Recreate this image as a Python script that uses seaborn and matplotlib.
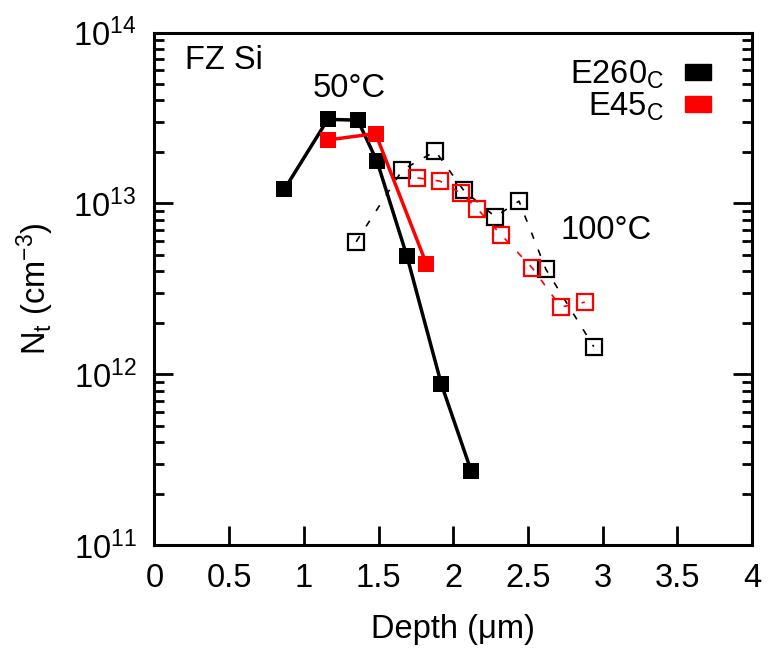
import numpy as np
import pandas as pd
import matplotlib
matplotlib.use("Agg")
import matplotlib.pyplot as plt
import seaborn as sns
from matplotlib.patches import Patch
from matplotlib.ticker import LogLocator, NullFormatter

# ---- data ----
e260_50_x = [0.87, 1.16, 1.36, 1.49, 1.69, 1.92, 2.12]
e260_50_y = [1.21e13, 3.1e13, 3.07e13, 1.76e13, 4.9e12, 8.75e11, 2.71e11]

e45_50_x = [1.16, 1.48, 1.82]
e45_50_y = [2.35e13, 2.56e13, 4.42e12]

e260_100_x = [1.35, 1.66, 1.88, 2.07, 2.28, 2.44, 2.62, 2.94]
e260_100_y = [5.96e12, 1.57e13, 2.02e13, 1.19e13, 8.35e12, 1.03e13, 4.11e12, 1.45e12]

e45_100_x = [1.76, 1.91, 2.05, 2.16, 2.32, 2.53, 2.72, 2.88]
e45_100_y = [1.41e13, 1.35e13, 1.15e13, 9.3e12, 6.55e12, 4.17e12, 2.47e12, 2.64e12]

x_ticks = [0, 0.5, 1, 1.5, 2, 2.5, 3, 3.5, 4]
x_ticklabels = ["0", "0.5", "1", "1.5", "2", "2.5", "3", "3.5", "4"]
legend_labels = [r"E260$_\mathregular{C}$", r"E45$_\mathregular{C}$"]
series_colors = ["black", "#ff0000"]

sns.set_theme(style="ticks")
plt.rcParams["font.family"] = ["Liberation Sans", "DejaVu Sans"]
plt.rcParams["mathtext.default"] = "regular"
plt.rcParams["axes.linewidth"] = 2.2
plt.rcParams["text.color"] = "black"
plt.rcParams["axes.labelcolor"] = "black"
plt.rcParams["xtick.color"] = "black"
plt.rcParams["ytick.color"] = "black"

FS = 23.5
MS = 12

fig = plt.figure(figsize=(7.69, 6.5), dpi=100)
ax = fig.add_axes([0.2009, 0.1615, 0.7771, 0.7885])

def series(x, y):
    return pd.DataFrame({"x": x, "y": y})

# 100 C, open squares, dashed
sns.lineplot(data=series(e260_100_x, e260_100_y), x="x", y="y", ax=ax,
             color="black", lw=1.2, estimator=None, sort=False,
             marker="s", markersize=MS, markerfacecolor="none",
             markeredgecolor="black", markeredgewidth=1.6, linestyle=(0, (4, 7)))
sns.lineplot(data=series(e45_100_x, e45_100_y), x="x", y="y", ax=ax,
             color="#ff0000", lw=1.2, estimator=None, sort=False,
             marker="s", markersize=MS, markerfacecolor="none",
             markeredgecolor="#ff0000", markeredgewidth=1.6, linestyle=(0, (4, 7)))

# 50 C, filled squares, solid
sns.lineplot(data=series(e260_50_x, e260_50_y), x="x", y="y", ax=ax,
             color="black", lw=2.5, estimator=None, sort=False,
             marker="s", markersize=MS, markeredgewidth=0, markerfacecolor="black")
sns.lineplot(data=series(e45_50_x, e45_50_y), x="x", y="y", ax=ax,
             color="#ff0000", lw=2.5, estimator=None, sort=False,
             marker="s", markersize=MS, markeredgewidth=0, markerfacecolor="#ff0000")

ax.set_yscale("log")
ax.set_xlim(0, 4)
ax.set_ylim(1e11, 1e14)
ax.set_xticks(x_ticks)
ax.set_xticklabels(x_ticklabels)
ax.yaxis.set_major_locator(LogLocator(base=10, numticks=10))
ax.yaxis.set_minor_locator(LogLocator(base=10, subs=np.arange(2, 10), numticks=100))
ax.yaxis.set_minor_formatter(NullFormatter())

ax.tick_params(axis="both", which="major", direction="in", length=14, width=2,
               labelsize=FS, pad=13)
ax.tick_params(axis="y", which="both", right=True, left=True)
ax.tick_params(axis="y", which="minor", direction="in", length=7, width=2)
ax.tick_params(axis="x", which="both", top=False, bottom=True)
for s in ax.spines.values():
    s.set_color("black")

ax.set_xlabel("Depth (\u03bcm)", fontsize=FS, labelpad=14)
ax.set_ylabel(r"N$_t$ (cm$^{-3}$)", fontsize=FS, labelpad=12)

ax.text(0.051, 0.946, "FZ Si", transform=ax.transAxes, fontsize=FS, va="center", ha="left")
ax.text(0.264, 0.891, "50\u00b0C", transform=ax.transAxes, fontsize=FS, va="center", ha="left")
ax.text(0.679, 0.614, "100\u00b0C", transform=ax.transAxes, fontsize=FS, va="center", ha="left")

handles = [Patch(facecolor=c, edgecolor=c) for c in series_colors]
ax.legend(handles, legend_labels, loc="upper right", bbox_to_anchor=(0.953, 0.975),
          frameon=False, markerfirst=False, fontsize=FS, handlelength=0.81,
          handleheight=0.38, handletextpad=0.63, labelspacing=0.0, borderaxespad=0)

fig.savefig("out.png", dpi=100)
